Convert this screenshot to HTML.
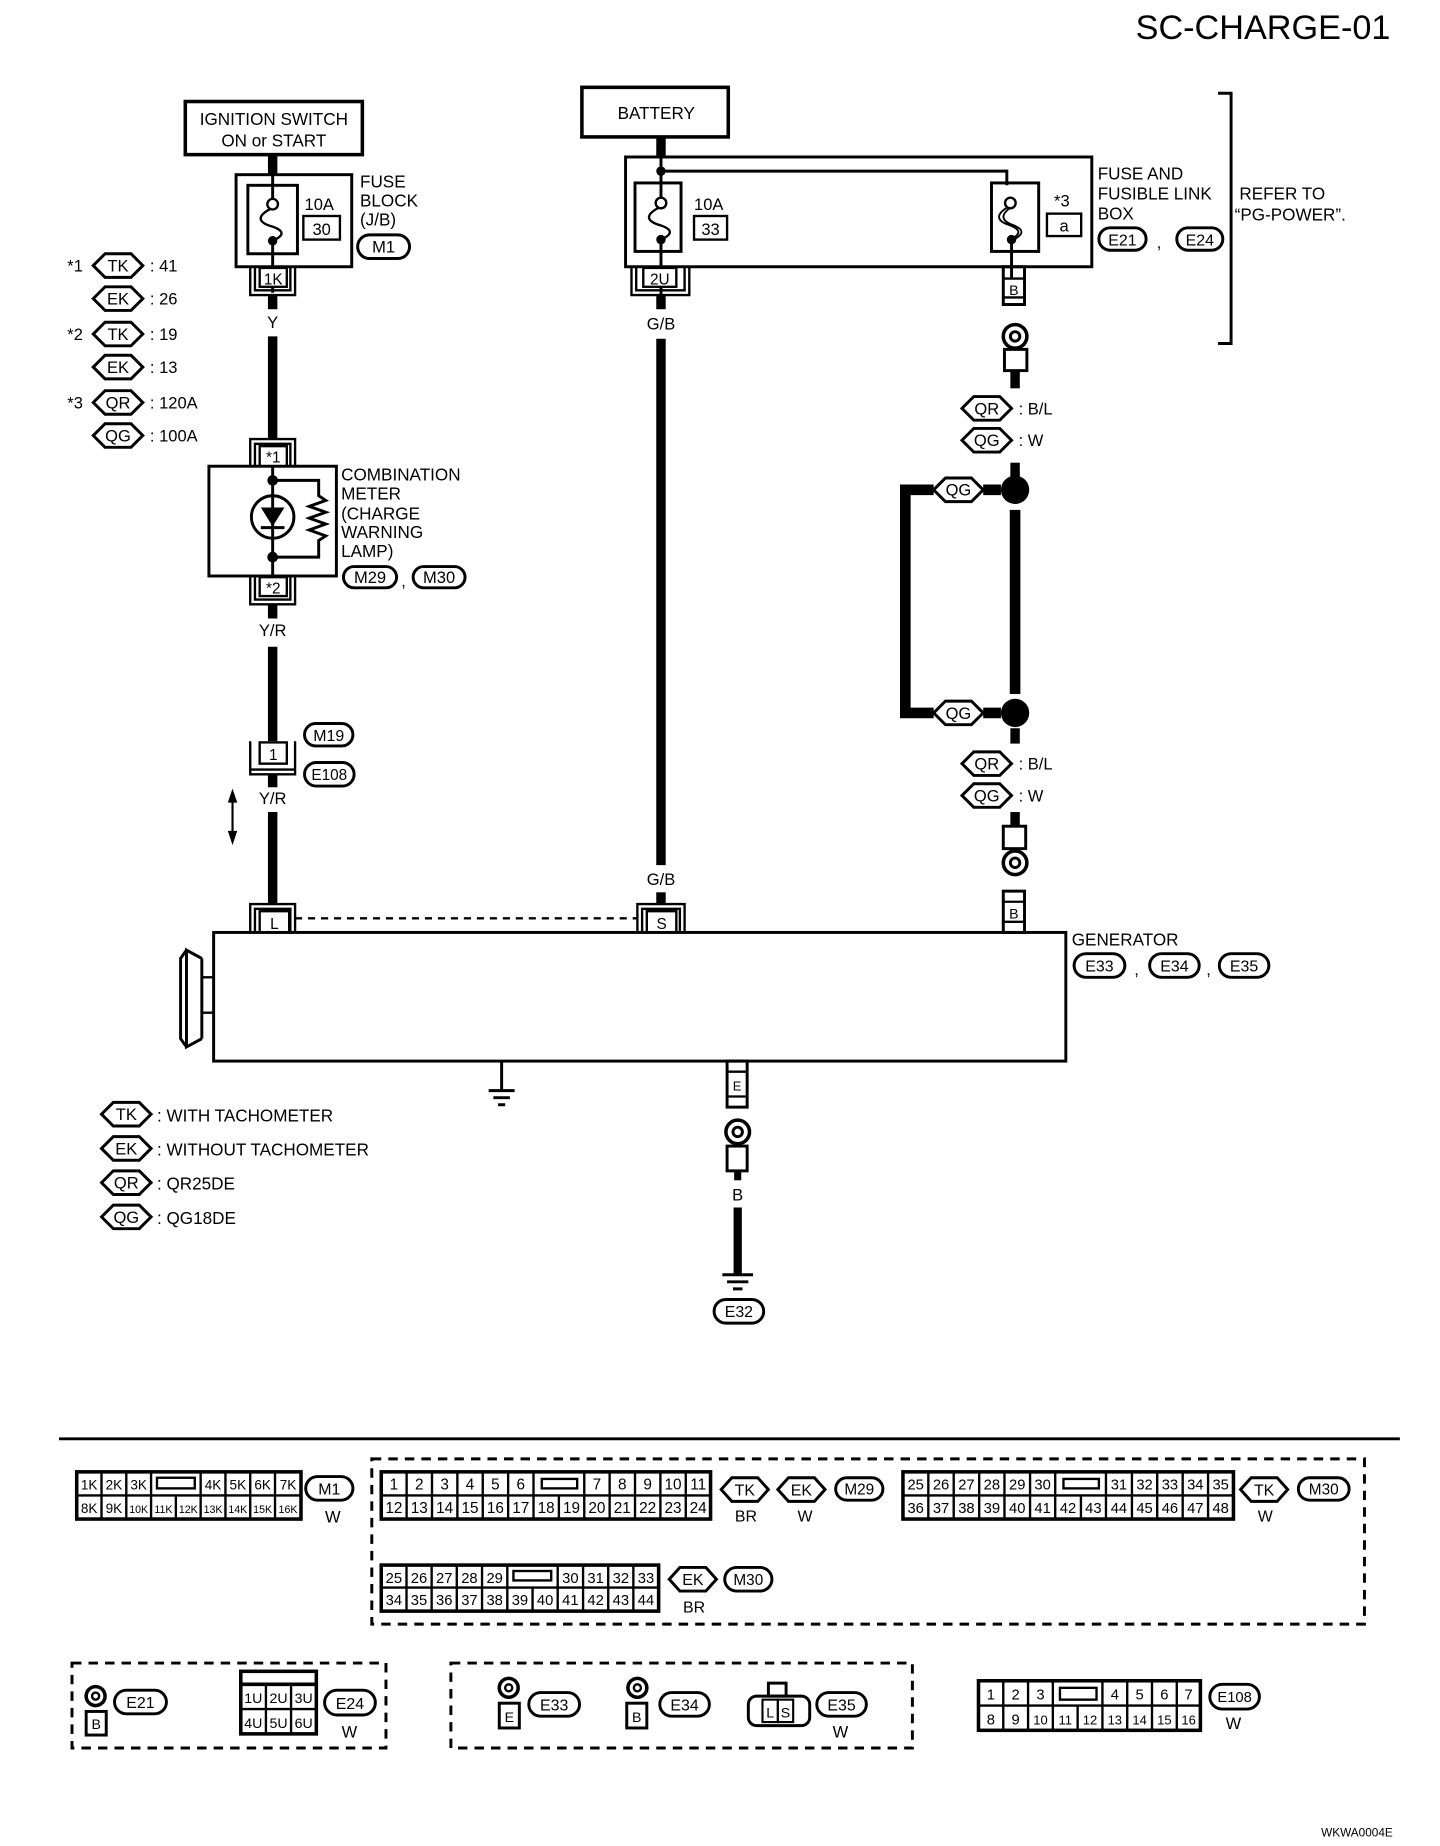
<!DOCTYPE html>
<html><head><meta charset="utf-8"><style>
html,body{margin:0;padding:0;background:#fff;}
svg{display:block;}
text{font-family:"Liberation Sans",sans-serif;fill:#000;}
</style></head><body>
<svg width="1440" height="1846" viewBox="0 0 1220 1564" preserveAspectRatio="none" xmlns="http://www.w3.org/2000/svg">
<text x="1178" y="33" font-size="29" text-anchor="end">SC-CHARGE-01</text>

<!-- IGNITION -->
<rect x="157" y="86" width="150" height="45" fill="#fff" stroke="#000" stroke-width="3"/>
<text x="232" y="106" font-size="14.5" text-anchor="middle">IGNITION SWITCH</text>
<text x="232" y="124" font-size="14.5" text-anchor="middle">ON or START</text>
<line x1="231" y1="131" x2="231" y2="148" stroke="#000" stroke-width="8"/>
<!-- fuse block -->
<rect x="200" y="148" width="98" height="78" fill="none" stroke="#000" stroke-width="2.5"/>
<rect x="210" y="157" width="42" height="58" fill="none" stroke="#000" stroke-width="2.5"/>
<line x1="231" y1="148" x2="231" y2="168" stroke="#000" stroke-width="2.5"/>
<circle cx="231" cy="173" r="4.5" fill="#fff" stroke="#000" stroke-width="2"/>
<path d="M229,177 C216,184 220,189 231,192 C242,196 240,200 231,204" fill="none" stroke="#000" stroke-width="2"/>
<circle cx="231" cy="204" r="4" fill="#000"/>
<line x1="231" y1="204" x2="231" y2="248" stroke="#000" stroke-width="2.5"/>
<text x="258" y="178" font-size="14">10A</text>
<rect x="257" y="183" width="31" height="20" fill="none" stroke="#000" stroke-width="2"/>
<text x="272.5" y="199" font-size="14" text-anchor="middle">30</text>
<text x="305" y="159" font-size="14.5">FUSE</text>
<text x="305" y="175" font-size="14.5">BLOCK</text>
<text x="305" y="191" font-size="14.5">(J/B)</text>
<rect x="303" y="199" width="44" height="20" rx="10" fill="none" stroke="#000" stroke-width="2.5"/>
<text x="325" y="214" font-size="14" text-anchor="middle">M1</text>
<!-- 1K connector -->
<path d="M212,226 V250 H250 V226 M216,226 V246 H246 V226" fill="none" stroke="#000" stroke-width="2"/>
<rect x="220" y="227" width="23" height="16" fill="#fff" stroke="#000" stroke-width="2"/>
<text x="231.5" y="241" font-size="13" text-anchor="middle">1K</text>
<line x1="231" y1="250" x2="231" y2="262" stroke="#000" stroke-width="8"/>
<text x="231" y="278" font-size="14" text-anchor="middle">Y</text>
<line x1="231" y1="285" x2="231" y2="372" stroke="#000" stroke-width="8"/>

<!-- legends left -->
<g font-size="14">
<text x="57" y="230">*1</text><text x="57" y="288">*2</text><text x="57" y="346">*3</text>
<text x="127" y="230">: 41</text><text x="127" y="258">: 26</text><text x="127" y="288">: 19</text>
<text x="127" y="316">: 13</text><text x="127" y="346">: 120A</text><text x="127" y="374">: 100A</text>
</g>
<g fill="none" stroke="#000" stroke-width="2.5">
<polygon points="79,225 89,215 111,215 121,225 111,235 89,235"/>
<polygon points="79,253 89,243 111,243 121,253 111,263 89,263"/>
<polygon points="79,283 89,273 111,273 121,283 111,293 89,293"/>
<polygon points="79,311 89,301 111,301 121,311 111,321 89,321"/>
<polygon points="79,341 89,331 111,331 121,341 111,351 89,351"/>
<polygon points="79,369 89,359 111,359 121,369 111,379 89,379"/>
</g>
<g font-size="14" text-anchor="middle">
<text x="100" y="230">TK</text><text x="100" y="258">EK</text><text x="100" y="288">TK</text>
<text x="100" y="316">EK</text><text x="100" y="346">QR</text><text x="100" y="374">QG</text>
</g>

<!-- *1 connector -->
<path d="M212,395 V372 H250 V395 M216,395 V376 H246 V395" fill="none" stroke="#000" stroke-width="2"/>
<rect x="220" y="378" width="23" height="17" fill="#fff" stroke="#000" stroke-width="2"/>
<text x="231.5" y="392" font-size="13" text-anchor="middle">*1</text>
<!-- meter -->
<rect x="177" y="395" width="108" height="93" fill="none" stroke="#000" stroke-width="2.5"/>
<line x1="231" y1="395" x2="231" y2="488" stroke="#000" stroke-width="2.5"/>
<path d="M231,407 H270 V420 L276,424 L262,429 L276,434 L262,439 L276,444 L262,449 L276,454 L270,458 V472 H231" fill="none" stroke="#000" stroke-width="2.5"/>
<circle cx="231" cy="407" r="4.5" fill="#000"/><circle cx="231" cy="472" r="4.5" fill="#000"/>
<circle cx="231" cy="438" r="18" fill="#fff" stroke="#000" stroke-width="2.5"/>
<line x1="231" y1="420" x2="231" y2="456" stroke="#000" stroke-width="2.5"/>
<polygon points="221,430 241,430 231,446" fill="#000"/>
<line x1="221" y1="447" x2="241" y2="447" stroke="#000" stroke-width="2.5"/>
<g font-size="14.5">
<text x="289" y="407">COMBINATION</text><text x="289" y="423">METER</text>
<text x="289" y="440">(CHARGE</text><text x="289" y="456">WARNING</text><text x="289" y="472">LAMP)</text>
</g>
<rect x="291" y="480" width="45" height="18" rx="9" fill="none" stroke="#000" stroke-width="2.5"/>
<text x="313.5" y="494" font-size="14" text-anchor="middle">M29</text>
<text x="340" y="497" font-size="14">,</text>
<rect x="350" y="480" width="44" height="18" rx="9" fill="none" stroke="#000" stroke-width="2.5"/>
<text x="372" y="494" font-size="14" text-anchor="middle">M30</text>
<!-- *2 connector -->
<path d="M212,488 V512 H250 V488 M216,488 V508 H246 V488" fill="none" stroke="#000" stroke-width="2"/>
<rect x="220" y="489" width="23" height="16" fill="#fff" stroke="#000" stroke-width="2"/>
<text x="231.5" y="503" font-size="13" text-anchor="middle">*2</text>
<line x1="231" y1="512" x2="231" y2="524" stroke="#000" stroke-width="8"/>
<text x="231" y="539" font-size="14" text-anchor="middle">Y/R</text>
<line x1="231" y1="548" x2="231" y2="628" stroke="#000" stroke-width="8"/>
<!-- connector 1 -->
<path d="M212,628 V656 H250 V628 M212,652 H250" fill="none" stroke="#000" stroke-width="2"/>
<rect x="220" y="629" width="23" height="18" fill="#fff" stroke="#000" stroke-width="2"/>
<text x="231.5" y="644" font-size="13" text-anchor="middle">1</text>
<rect x="258" y="613" width="41" height="19" rx="9.5" fill="none" stroke="#000" stroke-width="2.5"/>
<text x="278.5" y="628" font-size="13.5" text-anchor="middle">M19</text>
<rect x="258" y="646" width="42" height="20" rx="10" fill="none" stroke="#000" stroke-width="2.5"/>
<text x="279" y="661" font-size="13" text-anchor="middle">E108</text>
<line x1="231" y1="656" x2="231" y2="667" stroke="#000" stroke-width="8"/>
<text x="231" y="681" font-size="14" text-anchor="middle">Y/R</text>
<line x1="231" y1="688" x2="231" y2="766" stroke="#000" stroke-width="8"/>
<!-- double arrow -->
<line x1="197" y1="672" x2="197" y2="712" stroke="#000" stroke-width="1.8"/>
<polygon points="197,668 193,680 201,680" fill="#000"/><polygon points="197,716 193,704 201,704" fill="#000"/>
<!-- L connector -->
<path d="M212,790 V766 H250 V790 M216,790 V770 H246 V790" fill="none" stroke="#000" stroke-width="2"/>
<rect x="220" y="772" width="25" height="18" fill="#fff" stroke="#000" stroke-width="2"/>
<text x="232.5" y="787" font-size="13" text-anchor="middle">L</text>
<line x1="250" y1="778" x2="540" y2="778" stroke="#000" stroke-width="2" stroke-dasharray="6,5"/>

<!-- BATTERY -->
<rect x="493" y="74" width="124" height="42" fill="#fff" stroke="#000" stroke-width="3"/>
<text x="556" y="101" font-size="14.5" text-anchor="middle">BATTERY</text>
<line x1="560" y1="116" x2="560" y2="133" stroke="#000" stroke-width="8"/>
<rect x="530" y="133" width="395" height="93" fill="none" stroke="#000" stroke-width="2.5"/>
<path d="M560,133 V155 M560,145 H853 V157" fill="none" stroke="#000" stroke-width="2.5"/>
<circle cx="560" cy="145" r="4" fill="#000"/>
<rect x="538" y="155" width="39" height="58" fill="none" stroke="#000" stroke-width="2.5"/>
<line x1="560" y1="155" x2="560" y2="168" stroke="#000" stroke-width="2.5"/>
<circle cx="560" cy="172" r="4.5" fill="#fff" stroke="#000" stroke-width="2"/>
<path d="M558,176 C545,183 549,188 560,191 C571,195 569,199 560,203" fill="none" stroke="#000" stroke-width="2"/>
<circle cx="560" cy="203" r="4" fill="#000"/>
<line x1="560" y1="203" x2="560" y2="250" stroke="#000" stroke-width="2.5"/>
<text x="588" y="178" font-size="14">10A</text>
<rect x="588" y="183" width="28" height="20" fill="none" stroke="#000" stroke-width="2"/>
<text x="602" y="199" font-size="14" text-anchor="middle">33</text>
<rect x="840" y="155" width="40" height="58" fill="none" stroke="#000" stroke-width="2.5"/>
<circle cx="856" cy="172" r="4.5" fill="#fff" stroke="#000" stroke-width="2"/>
<path d="M853,176 C842,183 846,188 856,191 C866,195 864,199 856,203 M856,176 C846,183 850,188 859,191 C869,195 866,199 859,203" fill="none" stroke="#000" stroke-width="1.6"/>
<circle cx="857" cy="203" r="4" fill="#000"/>
<line x1="857" y1="203" x2="857" y2="235" stroke="#000" stroke-width="2.5"/>
<text x="893" y="175" font-size="14">*3</text>
<rect x="887" y="181" width="29" height="19" fill="none" stroke="#000" stroke-width="2"/>
<text x="901.5" y="196" font-size="14" text-anchor="middle">a</text>
<g font-size="14.5">
<text x="930" y="152">FUSE AND</text><text x="930" y="169">FUSIBLE LINK</text><text x="930" y="186">BOX</text>
<text x="1050" y="169">REFER TO</text><text x="1046" y="187">“PG-POWER”.</text>
</g>
<rect x="931" y="193" width="40" height="19" rx="9.5" fill="none" stroke="#000" stroke-width="2.5"/>
<text x="951" y="208" font-size="13.5" text-anchor="middle">E21</text>
<text x="980" y="210" font-size="14">,</text>
<rect x="997" y="193" width="39" height="19" rx="9.5" fill="none" stroke="#000" stroke-width="2.5"/>
<text x="1016.5" y="208" font-size="13.5" text-anchor="middle">E24</text>
<path d="M1032,79 H1043 V291 H1032" fill="none" stroke="#000" stroke-width="2.5"/>
<!-- 2U -->
<path d="M535,226 V250 H584 V226 M539,226 V246 H580 V226" fill="none" stroke="#000" stroke-width="2"/>
<rect x="545" y="227" width="28" height="16" fill="#fff" stroke="#000" stroke-width="2"/>
<text x="559" y="241" font-size="13" text-anchor="middle">2U</text>
<line x1="560" y1="250" x2="560" y2="262" stroke="#000" stroke-width="8"/>
<text x="560" y="279" font-size="14" text-anchor="middle">G/B</text>
<line x1="560" y1="287" x2="560" y2="733" stroke="#000" stroke-width="8"/>
<text x="560" y="750" font-size="14" text-anchor="middle">G/B</text>
<line x1="560" y1="756" x2="560" y2="766" stroke="#000" stroke-width="8"/>
<path d="M540,790 V766 H580 V790 M544,790 V770 H576 V790" fill="none" stroke="#000" stroke-width="2"/>
<rect x="548" y="772" width="25" height="18" fill="#fff" stroke="#000" stroke-width="2"/>
<text x="560.5" y="787" font-size="13" text-anchor="middle">S</text>

<!-- right branch -->
<rect x="850" y="226" width="18" height="32" fill="none" stroke="#000" stroke-width="2.5"/>
<line x1="850" y1="236" x2="868" y2="236" stroke="#000" stroke-width="2"/>
<line x1="850" y1="252" x2="868" y2="252" stroke="#000" stroke-width="2"/>
<text x="859" y="250" font-size="12" text-anchor="middle">B</text>
<circle cx="860" cy="285" r="10" fill="none" stroke="#000" stroke-width="3"/>
<circle cx="860" cy="285" r="4" fill="none" stroke="#000" stroke-width="2.5"/>
<rect x="851" y="296" width="19" height="18" fill="none" stroke="#000" stroke-width="2.5"/>
<line x1="860" y1="314" x2="860" y2="329" stroke="#000" stroke-width="8"/>
<g fill="none" stroke="#000" stroke-width="2.5">
<polygon points="815,346 825,336 847,336 857,346 847,356 825,356"/>
<polygon points="815,373 825,363 847,363 857,373 847,383 825,383"/>
<polygon points="815,647 825,637 847,637 857,647 847,657 825,657"/>
<polygon points="815,674 825,664 847,664 857,674 847,684 825,684"/>
<polygon points="791,415 801,405 823,405 833,415 823,425 801,425" fill="#fff"/>
<polygon points="791,604 801,594 823,594 833,604 823,614 801,614" fill="#fff"/>
</g>
<g font-size="14">
<text x="836" y="351" text-anchor="middle">QR</text><text x="836" y="378" text-anchor="middle">QG</text>
<text x="836" y="652" text-anchor="middle">QR</text><text x="836" y="679" text-anchor="middle">QG</text>
<text x="863" y="351">:  B/L</text><text x="863" y="378">:   W</text>
<text x="863" y="652">:  B/L</text><text x="863" y="679">:   W</text>
</g>
<line x1="860" y1="392" x2="860" y2="405" stroke="#000" stroke-width="8"/>
<path d="M848,415 H833 M791,415 H767 V604 H791 M833,604 H848" fill="none" stroke="#000" stroke-width="9"/>
<g font-size="14" text-anchor="middle"><text x="812" y="420">QG</text><text x="812" y="609">QG</text></g>
<circle cx="860" cy="415" r="12" fill="#000"/>
<line x1="860" y1="432" x2="860" y2="588" stroke="#000" stroke-width="9"/>
<circle cx="860" cy="604" r="12" fill="#000"/>
<line x1="860" y1="617" x2="860" y2="630" stroke="#000" stroke-width="8"/>
<line x1="860" y1="688" x2="860" y2="700" stroke="#000" stroke-width="8"/>
<rect x="850" y="700" width="19" height="19" fill="none" stroke="#000" stroke-width="2.5"/>
<circle cx="860" cy="731" r="10" fill="none" stroke="#000" stroke-width="3"/>
<circle cx="860" cy="731" r="4" fill="none" stroke="#000" stroke-width="2.5"/>
<rect x="850" y="755" width="18" height="35" fill="none" stroke="#000" stroke-width="2.5"/>
<line x1="850" y1="764" x2="868" y2="764" stroke="#000" stroke-width="2"/>
<line x1="850" y1="781" x2="868" y2="781" stroke="#000" stroke-width="2"/>
<text x="859" y="778" font-size="12" text-anchor="middle">B</text>

<!-- generator -->
<rect x="181" y="790" width="722" height="109" fill="none" stroke="#000" stroke-width="2.5"/>
<path d="M171,812 V880 M171,812 L158,805 V887 L171,880 M158,805 L153,812 V880 L158,887" fill="none" stroke="#000" stroke-width="2.5"/>
<rect x="171" y="828" width="10" height="30" fill="none" stroke="#000" stroke-width="2"/>
<text x="908" y="801" font-size="14.5">GENERATOR</text>
<rect x="910" y="808" width="43" height="20" rx="10" fill="none" stroke="#000" stroke-width="2.5"/>
<text x="931.5" y="823" font-size="13.5" text-anchor="middle">E33</text>
<text x="961" y="826" font-size="14">,</text>
<rect x="974" y="808" width="42" height="20" rx="10" fill="none" stroke="#000" stroke-width="2.5"/>
<text x="995" y="823" font-size="13.5" text-anchor="middle">E34</text>
<text x="1022" y="826" font-size="14">,</text>
<rect x="1033" y="808" width="42" height="20" rx="10" fill="none" stroke="#000" stroke-width="2.5"/>
<text x="1054" y="823" font-size="13.5" text-anchor="middle">E35</text>
<!-- ground -->
<path d="M425,899 V924 M414,924 H436 M418,930 H432 M422,936 H428" fill="none" stroke="#000" stroke-width="2.5"/>
<!-- E terminal -->
<rect x="616" y="899" width="17" height="39" fill="none" stroke="#000" stroke-width="2.5"/>
<line x1="616" y1="908" x2="633" y2="908" stroke="#000" stroke-width="2"/>
<line x1="616" y1="929" x2="633" y2="929" stroke="#000" stroke-width="2"/>
<text x="624.5" y="924" font-size="11" text-anchor="middle">E</text>
<circle cx="625" cy="959" r="10" fill="none" stroke="#000" stroke-width="3"/>
<circle cx="625" cy="959" r="4" fill="none" stroke="#000" stroke-width="2.5"/>
<rect x="616" y="971" width="17" height="21" fill="none" stroke="#000" stroke-width="2.5"/>
<line x1="625" y1="992" x2="625" y2="1000" stroke="#000" stroke-width="6"/>
<text x="625" y="1017" font-size="14" text-anchor="middle">B</text>
<line x1="625" y1="1023" x2="625" y2="1080" stroke="#000" stroke-width="7"/>
<path d="M612,1080 H638 M616,1086 H634 M621,1092 H629" fill="none" stroke="#000" stroke-width="2.5"/>
<rect x="605" y="1101" width="42" height="20" rx="10" fill="none" stroke="#000" stroke-width="2.5"/>
<text x="626" y="1116" font-size="13.5" text-anchor="middle">E32</text>

<!-- bottom legend -->
<g fill="none" stroke="#000" stroke-width="2.5">
<polygon points="86,944 96,934 118,934 128,944 118,954 96,954"/>
<polygon points="86,973 96,963 118,963 128,973 118,983 96,983"/>
<polygon points="86,1002 96,992 118,992 128,1002 118,1012 96,1012"/>
<polygon points="86,1031 96,1021 118,1021 128,1031 118,1041 96,1041"/>
</g>
<g font-size="14" text-anchor="middle">
<text x="107" y="949">TK</text><text x="107" y="978">EK</text><text x="107" y="1007">QR</text><text x="107" y="1036">QG</text>
</g>
<g font-size="14.5">
<text x="133" y="950">: WITH TACHOMETER</text><text x="133" y="979">: WITHOUT TACHOMETER</text>
<text x="133" y="1008">: QR25DE</text><text x="133" y="1037">: QG18DE</text>
</g>

<line x1="50" y1="1219" x2="1186" y2="1219" stroke="#000" stroke-width="2.5"/>

<g fill="none" stroke="#000" stroke-width="2.5" stroke-dasharray="8,6">
<rect x="315" y="1236" width="841" height="140"/>
<rect x="61" y="1409" width="266" height="72"/>
<rect x="382" y="1409" width="391" height="72"/>
</g>

<!-- M1 table -->
<g fill="none" stroke="#000" stroke-width="2">
<rect x="65" y="1247" width="190" height="40" stroke-width="3"/>
<line x1="65" y1="1267" x2="255" y2="1267"/>
<path d="M86,1247 V1287 M107,1247 V1287 M128,1247 V1287 M170,1247 V1287 M191,1247 V1287 M212,1247 V1287 M233,1247 V1287 M149,1267 V1287"/>
<rect x="133" y="1252" width="32" height="9"/>
</g>
<g font-size="11.5" text-anchor="middle">
<text x="75.5" y="1262">1K</text><text x="96.5" y="1262">2K</text><text x="117.5" y="1262">3K</text>
<text x="180.5" y="1262">4K</text><text x="201.5" y="1262">5K</text><text x="222.5" y="1262">6K</text><text x="244" y="1262">7K</text>
<text x="75.5" y="1282">8K</text><text x="96.5" y="1282">9K</text><text x="117.5" y="1282" font-size="9">10K</text>
<text x="138.5" y="1282" font-size="9">11K</text><text x="159.5" y="1282" font-size="9">12K</text>
<text x="180.5" y="1282" font-size="9">13K</text><text x="201.5" y="1282" font-size="9">14K</text>
<text x="222.5" y="1282" font-size="9">15K</text><text x="244" y="1282" font-size="9">16K</text>
</g>
<rect x="259" y="1251" width="40" height="20" rx="10" fill="none" stroke="#000" stroke-width="2.5"/>
<text x="279" y="1266" font-size="13.5" text-anchor="middle">M1</text>
<text x="282" y="1290" font-size="14" text-anchor="middle">W</text>

<!-- M29 table -->
<g fill="none" stroke="#000" stroke-width="2">
<rect x="323" y="1247" width="279" height="40" stroke-width="3"/>
<line x1="323" y1="1267" x2="602" y2="1267"/>
<path d="M344.5,1247 V1287 M366,1247 V1287 M387.5,1247 V1287 M409,1247 V1287 M430.5,1247 V1287 M452,1247 V1287 M473.5,1267 V1287 M495,1247 V1287 M516.5,1247 V1287 M538,1247 V1287 M559.5,1247 V1287 M581,1247 V1287"/>
<rect x="459" y="1253" width="30" height="8"/>
</g>
<g font-size="13" text-anchor="middle">
<text x="333.7" y="1262">1</text><text x="355.2" y="1262">2</text><text x="376.7" y="1262">3</text><text x="398.2" y="1262">4</text><text x="419.7" y="1262">5</text><text x="441.2" y="1262">6</text>
<text x="505.7" y="1262">7</text><text x="527.2" y="1262">8</text><text x="548.7" y="1262">9</text><text x="570.2" y="1262">10</text><text x="591.5" y="1262">11</text>
<text x="333.7" y="1282">12</text><text x="355.2" y="1282">13</text><text x="376.7" y="1282">14</text><text x="398.2" y="1282">15</text><text x="419.7" y="1282">16</text><text x="441.2" y="1282">17</text><text x="462.7" y="1282">18</text><text x="484.2" y="1282">19</text><text x="505.7" y="1282">20</text><text x="527.2" y="1282">21</text><text x="548.7" y="1282">22</text><text x="570.2" y="1282">23</text><text x="591.5" y="1282">24</text>
</g>
<g fill="none" stroke="#000" stroke-width="2.5">
<polygon points="611,1262 620,1252 642,1252 651,1262 642,1272 620,1272"/>
<polygon points="659,1262 668,1252 690,1252 699,1262 690,1272 668,1272"/>
<polygon points="1051,1262 1060,1252 1082,1252 1091,1262 1082,1272 1060,1272"/>
<polygon points="567,1338 576,1328 598,1328 607,1338 598,1348 576,1348"/>
</g>
<g font-size="13.5" text-anchor="middle">
<text x="631" y="1267">TK</text><text x="679" y="1267">EK</text><text x="1071" y="1267">TK</text><text x="587" y="1343">EK</text>
<text x="632" y="1289">BR</text><text x="682" y="1289">W</text><text x="1072" y="1289">W</text><text x="588" y="1366">BR</text>
</g>
<rect x="708" y="1252" width="40" height="19" rx="9.5" fill="none" stroke="#000" stroke-width="2.5"/>
<text x="728" y="1266" font-size="13" text-anchor="middle">M29</text>
<rect x="1100" y="1252" width="43" height="19" rx="9.5" fill="none" stroke="#000" stroke-width="2.5"/>
<text x="1121.5" y="1266" font-size="13" text-anchor="middle">M30</text>
<rect x="614" y="1328" width="40" height="20" rx="10" fill="none" stroke="#000" stroke-width="2.5"/>
<text x="634" y="1343" font-size="13" text-anchor="middle">M30</text>

<!-- M30 TK table -->
<g fill="none" stroke="#000" stroke-width="2">
<rect x="765" y="1247" width="280" height="40" stroke-width="3"/>
<line x1="765" y1="1267" x2="1045" y2="1267"/>
<path d="M786.5,1247 V1287 M808,1247 V1287 M829.6,1247 V1287 M851,1247 V1287 M872.7,1247 V1287 M894,1247 V1287 M915.8,1267 V1287 M937,1247 V1287 M959,1247 V1287 M980.4,1247 V1287 M1002,1247 V1287 M1023.5,1247 V1287"/>
<rect x="901" y="1253" width="30" height="8"/>
</g>
<g font-size="12.5" text-anchor="middle">
<text x="775.8" y="1262">25</text><text x="797.3" y="1262">26</text><text x="818.8" y="1262">27</text><text x="840.3" y="1262">28</text><text x="861.8" y="1262">29</text><text x="883.3" y="1262">30</text>
<text x="948" y="1262">31</text><text x="969.7" y="1262">32</text><text x="991.2" y="1262">33</text><text x="1012.7" y="1262">34</text><text x="1034.2" y="1262">35</text>
<text x="775.8" y="1282">36</text><text x="797.3" y="1282">37</text><text x="818.8" y="1282">38</text><text x="840.3" y="1282">39</text><text x="861.8" y="1282">40</text><text x="883.3" y="1282">41</text><text x="904.8" y="1282">42</text><text x="926.3" y="1282">43</text><text x="948" y="1282">44</text><text x="969.7" y="1282">45</text><text x="991.2" y="1282">46</text><text x="1012.7" y="1282">47</text><text x="1034.2" y="1282">48</text>
</g>

<!-- M30 EK table -->
<g fill="none" stroke="#000" stroke-width="2">
<rect x="323" y="1326" width="235" height="39" stroke-width="3"/>
<line x1="323" y1="1345" x2="558" y2="1345"/>
<path d="M344.4,1326 V1365 M365.7,1326 V1365 M387,1326 V1365 M408.4,1326 V1365 M429.8,1326 V1365 M451.2,1345 V1365 M472.5,1326 V1365 M494,1326 V1365 M515.3,1326 V1365 M536.6,1326 V1365"/>
<rect x="435" y="1331" width="32" height="8"/>
</g>
<g font-size="12.5" text-anchor="middle">
<text x="333.7" y="1341">25</text><text x="355" y="1341">26</text><text x="376.4" y="1341">27</text><text x="397.7" y="1341">28</text><text x="419.1" y="1341">29</text>
<text x="483.2" y="1341">30</text><text x="504.6" y="1341">31</text><text x="526" y="1341">32</text><text x="547.3" y="1341">33</text>
<text x="333.7" y="1360">34</text><text x="355" y="1360">35</text><text x="376.4" y="1360">36</text><text x="397.7" y="1360">37</text><text x="419.1" y="1360">38</text><text x="440.5" y="1360">39</text><text x="461.8" y="1360">40</text><text x="483.2" y="1360">41</text><text x="504.6" y="1360">42</text><text x="526" y="1360">43</text><text x="547.3" y="1360">44</text>
</g>

<!-- E21 / E24 -->
<circle cx="81" cy="1437" r="8" fill="none" stroke="#000" stroke-width="3"/>
<circle cx="81" cy="1437" r="3" fill="none" stroke="#000" stroke-width="2"/>
<rect x="73" y="1450" width="17" height="20" fill="none" stroke="#000" stroke-width="2.5"/>
<text x="81.5" y="1465" font-size="12" text-anchor="middle">B</text>
<rect x="97" y="1432" width="44" height="20" rx="10" fill="none" stroke="#000" stroke-width="2.5"/>
<text x="119" y="1447" font-size="13.5" text-anchor="middle">E21</text>
<g fill="none" stroke="#000" stroke-width="2">
<rect x="204" y="1416" width="64" height="53" stroke-width="3"/>
<line x1="204" y1="1427" x2="268" y2="1427" stroke-width="3"/>
<line x1="204" y1="1448" x2="268" y2="1448"/>
<path d="M225.3,1427 V1469 M246.6,1427 V1469"/>
</g>
<g font-size="12" text-anchor="middle">
<text x="214.6" y="1443">1U</text><text x="236" y="1443">2U</text><text x="257.3" y="1443">3U</text>
<text x="214.6" y="1464">4U</text><text x="236" y="1464">5U</text><text x="257.3" y="1464">6U</text>
</g>
<rect x="275" y="1432" width="43" height="21" rx="10.5" fill="none" stroke="#000" stroke-width="2.5"/>
<text x="296.5" y="1448" font-size="13.5" text-anchor="middle">E24</text>
<text x="296" y="1472" font-size="14" text-anchor="middle">W</text>

<!-- E33 E34 E35 -->
<circle cx="431" cy="1430" r="8" fill="none" stroke="#000" stroke-width="3"/>
<circle cx="431" cy="1430" r="3" fill="none" stroke="#000" stroke-width="2"/>
<rect x="423" y="1443" width="17" height="21" fill="none" stroke="#000" stroke-width="2.5"/>
<text x="431.5" y="1459" font-size="12" text-anchor="middle">E</text>
<rect x="448" y="1434" width="43" height="20" rx="10" fill="none" stroke="#000" stroke-width="2.5"/>
<text x="469.5" y="1449" font-size="13.5" text-anchor="middle">E33</text>
<circle cx="540" cy="1430" r="8" fill="none" stroke="#000" stroke-width="3"/>
<circle cx="540" cy="1430" r="3" fill="none" stroke="#000" stroke-width="2"/>
<rect x="531" y="1443" width="17" height="21" fill="none" stroke="#000" stroke-width="2.5"/>
<text x="539.5" y="1459" font-size="12" text-anchor="middle">B</text>
<rect x="559" y="1434" width="42" height="20" rx="10" fill="none" stroke="#000" stroke-width="2.5"/>
<text x="580" y="1449" font-size="13.5" text-anchor="middle">E34</text>
<rect x="651" y="1426" width="15" height="11" fill="none" stroke="#000" stroke-width="2.5"/>
<rect x="634" y="1437" width="52" height="25" rx="7" fill="none" stroke="#000" stroke-width="2.5"/>
<rect x="646" y="1440" width="13" height="19" fill="none" stroke="#000" stroke-width="1.8"/>
<rect x="659" y="1440" width="13" height="19" fill="none" stroke="#000" stroke-width="1.8"/>
<text x="652.5" y="1455" font-size="12" text-anchor="middle">L</text><text x="665.5" y="1455" font-size="12" text-anchor="middle">S</text>
<rect x="692" y="1434" width="42" height="20" rx="10" fill="none" stroke="#000" stroke-width="2.5"/>
<text x="713" y="1449" font-size="13.5" text-anchor="middle">E35</text>
<text x="712" y="1472" font-size="14" text-anchor="middle">W</text>

<!-- E108 table -->
<g fill="none" stroke="#000" stroke-width="2">
<rect x="829" y="1424" width="188" height="42" stroke-width="3"/>
<line x1="829" y1="1445" x2="1017" y2="1445"/>
<path d="M850,1424 V1466 M871,1424 V1466 M892,1424 V1466 M913,1445 V1466 M934,1424 V1466 M955,1424 V1466 M976,1424 V1466 M997,1424 V1466"/>
<rect x="898" y="1430" width="31" height="10"/>
</g>
<g font-size="12.5" text-anchor="middle">
<text x="839.5" y="1440">1</text><text x="860.5" y="1440">2</text><text x="881.5" y="1440">3</text>
<text x="944.5" y="1440">4</text><text x="965.5" y="1440">5</text><text x="986.5" y="1440">6</text><text x="1007" y="1440">7</text>
<text x="839.5" y="1461">8</text><text x="860.5" y="1461">9</text><text x="881.5" y="1461" font-size="11">10</text><text x="902.5" y="1461" font-size="11">11</text><text x="923.5" y="1461" font-size="11">12</text><text x="944.5" y="1461" font-size="11">13</text><text x="965.5" y="1461" font-size="11">14</text><text x="986.5" y="1461" font-size="11">15</text><text x="1007" y="1461" font-size="11">16</text>
</g>
<rect x="1025" y="1427" width="42" height="21" rx="10.5" fill="none" stroke="#000" stroke-width="2.5"/>
<text x="1046" y="1442" font-size="12.5" text-anchor="middle">E108</text>
<text x="1045" y="1465" font-size="14" text-anchor="middle">W</text>

<text x="1180" y="1556" font-size="10" text-anchor="end">WKWA0004E</text>
</svg>
</body></html>
